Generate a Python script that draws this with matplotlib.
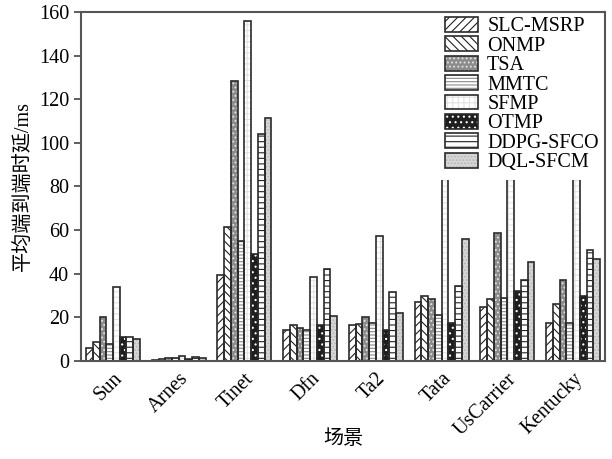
import matplotlib
matplotlib.use("Agg")
import matplotlib.pyplot as plt
import matplotlib.patches as mpatches
import numpy as np

plt.rcParams['font.family'] = ['Liberation Serif', 'Noto Sans CJK SC']
plt.rcParams['hatch.linewidth'] = 0.8

# 场景 (x 轴类别)
scenes = ['Sun', 'Arnes', 'Tinet', 'Dfn', 'Ta2', 'Tata', 'UsCarrier', 'Kentucky']
methods = ['SLC-MSRP', 'ONMP', 'TSA', 'MMTC', 'SFMP', 'OTMP', 'DDPG-SFCO', 'DQL-SFCM']

# 平均端到端时延 (ms)，超出 160 的柱子在图中被截断
slc_msrp = [5.8, 0.5, 39.5, 14.3, 16.6, 27.1, 24.8, 17.5]
onmp = [8.9, 1.0, 61.3, 16.7, 16.9, 30.0, 28.4, 26.0]
tsa = [20.2, 1.6, 128.5, 15.2, 20.1, 28.2, 58.5, 37.1]
mmtc = [7.8, 1.2, 54.9, 14.4, 17.2, 21.0, 29.0, 17.5]
sfmp = [34.0, 2.4, 156.0, 38.7, 57.5, 200.0, 200.0, 200.0]
otmp = [11.1, 0.8, 49.2, 16.5, 14.3, 17.3, 32.0, 29.7]
ddpg_sfco = [10.8, 1.8, 104.0, 42.3, 31.4, 34.5, 37.1, 51.0]
dql_sfcm = [10.1, 1.4, 111.5, 20.6, 22.0, 56.1, 45.4, 46.9]

series = [slc_msrp, onmp, tsa, mmtc, sfmp, otmp, ddpg_sfco, dql_sfcm]

# (底色, 填充图案, 图案颜色)
styles = [
    ('white', '////', '#222222'),
    ('white', '\\\\\\\\', '#222222'),
    ('#8c8c8c', '....', '#e6e6e6'),
    ('white', '-----', '#8a8a8a'),
    ('white', '+++', '#e2e2e2'),
    ('#1e1e1e', '...', '#ffffff'),
    ('white', '---', '#222222'),
    ('#d6d6d6', '.....', '#b4b4b4'),
]

fs = 14.5
fig = plt.figure(figsize=(6.12, 4.59), dpi=100)
ax = fig.add_axes([0.132, 0.2135, 0.857, 0.7605])

x = np.arange(len(scenes))
w = 0.1025
handles = []
for i, vals in enumerate(series):
    fc, hatch, hc = styles[i]
    pos = x + (i - 3.5) * w
    ax.bar(pos, vals, w, color=fc, hatch=hatch, edgecolor=hc, linewidth=0, zorder=1.5)
    ax.bar(pos, vals, w, fill=False, edgecolor='#2a2a2a', linewidth=1.2, zorder=2)
    p1 = mpatches.Patch(facecolor=fc, hatch=hatch, edgecolor=hc, linewidth=0)
    p2 = mpatches.Patch(fill=False, edgecolor='#2a2a2a', linewidth=1.2)
    handles.append((p1, p2))

ax.set_xlim(-0.49, 7.49)
ax.set_ylim(0, 160)
ax.set_yticks(np.arange(0, 161, 20))
ax.set_xticks(x)
ax.set_xticklabels(scenes, rotation=45, ha='right', rotation_mode='anchor', fontsize=fs)
ax.tick_params(axis='x', length=0, pad=6)
ax.tick_params(axis='y', direction='out', length=5, width=1.2, labelsize=fs, color='#444444')
for s in ax.spines.values():
    s.set_color('#555555')
    s.set_linewidth(1.5)

ax.set_ylabel('平均端到端时延/ms', fontsize=fs, labelpad=4)
ax.set_xlabel('场景', fontsize=fs, va='center')
ax.xaxis.set_label_coords(0.5, -0.226)

leg = ax.legend(handles, methods, loc='upper left', fontsize=fs,
                handlelength=1.64, handleheight=0.75, handletextpad=0.45,
                labelspacing=0.0, borderaxespad=0, borderpad=0.4,
                frameon=True, fancybox=False, framealpha=1,
                bbox_to_anchor=(437 / 612, 1 - 9 / 459),
                bbox_transform=fig.transFigure)
leg.get_frame().set_edgecolor('none')
leg.get_frame().set_facecolor('white')
leg.set_zorder(2.4)

fig.savefig('out.png', dpi=100)
